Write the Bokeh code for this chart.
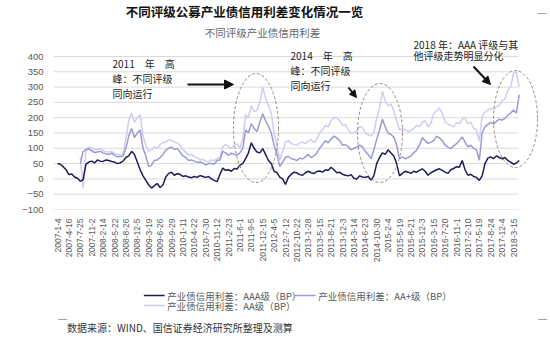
import math
from bokeh.plotting import figure
from bokeh.layouts import column
from bokeh.models import Range1d, FixedTicker, Label, Arrow, NormalHead
from bokeh.embed import file_html
from bokeh.resources import INLINE

nan = float("nan")

tick_labels = ["2007-1-4", "2007-4-16", "2007-7-25", "2007-11-2", "2008-2-14", "2008-5-22",
               "2008-8-26", "2008-12-5", "2009-3-19", "2009-6-26", "2009-9-29", "2010-1-11",
               "2010-4-22", "2010-7-30", "2010-11-12", "2011-2-23", "2011-6-1", "2011-9-5",
               "2011-12-15", "2012-4-5", "2012-7-12", "2012-10-22", "2013-1-28", "2013-5-15",
               "2013-8-21", "2013-12-3", "2014-3-14", "2014-6-23", "2014-10-30", "2015-2-4",
               "2015-5-19", "2015-8-21", "2015-12-3", "2016-3-15", "2016-7-20", "2016-11-1",
               "2017-2-10", "2017-5-19", "2017-8-24", "2017-12-4", "2018-3-15"]

y_ticks = [-100, -50, 0, 50, 100, 150, 200, 250, 300, 350, 400]

# sample positions, in units of the tick-label spacing (four samples per label step)
x_pos = [k * 0.25 for k in range(163)]

aaa = [50, 48, 40, 30, 14, 16, 6, 2, -8, -2, 48, 55, 58, 52, 62, 58, 57, 62, 60, 57,
       55, 50, 52, 58, 70, 75, 90, 80, 55, 30, 10, -5, -20, -30, -22, -15, -28, -20, 6, 18,
       22, 12, 17, 15, 8, 10, 6, 4, 8, 5, 11, 8, 5, 8, 0, -5, -9, 15, 35, 28,
       30, 25, 34, 32, 45, 50, 66, 85, 118, 100, 88, 85, 99, 80, 60, 50, 25, 20, 6, 0,
       -18, 5, 15, 22, 20, 14, 12, 20, 25, 20, 18, 24, 26, 22, 30, 28, 38, 30, 20, 22,
       15, 12, 10, 14, 2, 0, 10, 6, 5, 8, -4, 10, 50, 70, 85, 80, 95, 85, 75, 50,
       10, 18, 25, 22, 18, 25, 22, 28, 33, 25, 12, 20, 25, 30, 33, 28, 22, 18, 30, 34,
       40, 38, 60, 30, 12, 15, 8, 5, -5, 10, 50, 68, 72, 66, 75, 70, 66, 70, 60, 55,
       48, 52, 60]

aa_plus = [nan, nan, nan, nan, nan, nan, nan, nan, 50, 90, 95, 98, 92, 86, 88, 90, 85, 82, 80, 84,
           77, 72, 72, 75, 100, 140, 165, 135, 150, 160, 100, 75, 40, 45, 60, 62, 70, 80, 94, 100,
           104, 96, 99, 88, 75, 70, 60, 62, 58, 54, 55, 52, 45, 50, 50, 48, 60, 62, 90, 85,
           77, 84, 80, 78, 85, 100, 160, 150, 180, 165, 155, 185, 213, 190, 172, 150, 110, 80, 40, 55,
           70, 74, 66, 64, 60, 68, 65, 72, 80, 70, 75, 85, 100, 112, 125, 118, 130, 140, 134, 125,
           110, 112, 105, 95, 100, 104, 110, 105, 90, 80, 66, 95, 130, 160, 195, 170, 150, 145, 137, 110,
           66, 72, 66, 70, 75, 85, 94, 110, 134, 125, 116, 120, 125, 140, 134, 125, 110, 104, 99, 108,
           115, 125, 137, 120, 105, 110, 100, 95, 61, 150, 170, 178, 185, 180, 188, 195, 192, 198, 208, 215,
           225, 215, 275]

aa = [nan, nan, nan, nan, nan, nan, nan, nan, 70, -30, 98, 104, 100, 96, 95, 98, 92, 90, 88, 90,
      83, 80, 78, 82, 130, 190, 215, 185, 200, 210, 140, 110, 90, 95, 105, 100, 112, 118, 120, 128,
      126, 120, 118, 110, 95, 88, 78, 80, 72, 70, 62, 64, 58, 56, 62, 60, 66, 70, 105, 112,
      105, 100, 110, 115, 100, 130, 210, 200, 240, 220, 225, 250, 300, 265, 240, 215, 150, 110, 62, 90,
      120, 125, 116, 112, 110, 118, 120, 115, 125, 128, 118, 130, 150, 160, 175, 170, 190, 200, 200, 190,
      175, 178, 160, 150, 151, 155, 172, 168, 150, 145, 140, 150, 200, 230, 287, 255, 239, 245, 223, 190,
      160, 165, 160, 155, 158, 165, 175, 170, 185, 190, 170, 180, 215, 222, 232, 215, 185, 180, 174, 170,
      185, 180, 196, 200, 180, 185, 165, 160, 124, 205, 218, 225, 230, 228, 235, 240, 255, 262, 289, 300,
      345, 350, 300]

series_names = ["产业债信用利差：AAA级（BP）", "产业债信用利差：AA+级（BP）", "产业债信用利差：AA级（BP）"]
colors = ["#1c1c58", "#9a9ad8", "#cdcdf0"]

CJK = "Noto Sans CJK SC"
LAT = "Liberation Sans"

TOP_H = 265

# pixel -> data helpers for annotation placement (frame: x 53..550, y 0..209)
def X(px):
    return (px - 57) / 11.4

def Y(py):
    return 400 - (py - 56) * 500 / 153

p = figure(width=550, height=TOP_H, output_backend="svg", toolbar_location=None,
           x_range=Range1d(X(53), X(550)), y_range=Range1d(-100, Y(0)),
           min_border_left=53, min_border_right=0, min_border_top=0,
           min_border_bottom=TOP_H - 209)
p.outline_line_color = None
p.background_fill_color = "white"
p.border_fill_color = "white"
p.grid.visible = False

# horizontal gridlines, limited to the chart's own width
p.segment(x0=[X(53)] * len(y_ticks), x1=[X(518)] * len(y_ticks), y0=y_ticks, y1=y_ticks,
          line_color="#d9d9d9", line_width=1)

p.line(x_pos, aa, line_color=colors[2], line_width=1.5)
p.line(x_pos, aa_plus, line_color=colors[1], line_width=1.5)
p.line(x_pos, aaa, line_color=colors[0], line_width=1.5)

# y axis
p.yaxis.ticker = FixedTicker(ticks=y_ticks)
p.yaxis.axis_line_color = None
p.yaxis.major_tick_line_color = None
p.yaxis.minor_tick_line_color = None
p.yaxis.major_label_text_font = LAT
p.yaxis.major_label_text_font_size = "9.5px"
p.yaxis.major_label_text_color = "#595959"
p.yaxis.major_label_standoff = 4

# x axis
p.xaxis.ticker = FixedTicker(ticks=list(range(len(tick_labels))))
p.xaxis.major_label_overrides = {i: t for i, t in enumerate(tick_labels)}
p.xaxis.major_label_orientation = math.pi / 2
p.xaxis.axis_line_color = None
p.xaxis.major_tick_line_color = None
p.xaxis.minor_tick_line_color = None
p.xaxis.major_label_text_font = LAT
p.xaxis.major_label_text_font_size = "8.5px"
p.xaxis.major_label_text_color = "#595959"
p.xaxis.major_label_standoff = 3

# dashed ellipses
ell_color = "#a08878"
p.ellipse(x=[X(255.5)], y=[Y(127.5)], width=[45 / 11.4], height=[109 * 500 / 153],
          fill_color=None, line_color=ell_color, line_dash="3 2", line_width=1)
p.ellipse(x=[X(379.5)], y=[Y(132.5)], width=[45 / 11.4], height=[99 * 500 / 153],
          fill_color=None, line_color=ell_color, line_dash="3 2", line_width=1)
p.ellipse(x=[X(515)], y=[Y(118.5)], width=[44 / 11.4], height=[97 * 500 / 153],
          fill_color=None, line_color=ell_color, line_dash="3 2", line_width=1)

def add_label(fig, x, y, text, size="10px", color="#222222", font=CJK, align="left", style="normal"):
    fig.add_layout(Label(x=x, y=y, text=text, text_font=font, text_font_size=size,
                         text_color=color, text_align=align, text_baseline="middle",
                         text_font_style=style))

# titles
add_label(p, X(244), Y(11), "不同评级公募产业债信用利差变化情况一览", size="12.5px", color="#111111",
          align="center", style="bold")
add_label(p, X(262), Y(32), "不同评级产业债信用利差", size="10.5px", color="#666666", align="center")

# annotations
add_label(p, X(112), Y(63), "2011\u3000年\u3000高")
add_label(p, X(112), Y(78), "峰：不同评级")
add_label(p, X(112), Y(93), "同向运行")
add_label(p, X(290), Y(55), "2014\u3000年\u3000高")
add_label(p, X(290), Y(70), "峰：不同评级")
add_label(p, X(290), Y(85), "同向运行")
add_label(p, X(413), Y(44), "2018 年：AAA 评级与其")
add_label(p, X(413), Y(55), "他评级走势明显分化")
add_label(p, X(546), Y(12), "—", size="9px", color="#555555", font=LAT, align="right")

for (x0, y0, x1, y1, sz) in [(187, 84, 233, 84, 9), (348, 87, 356, 97, 7), (473, 66, 490, 84, 8)]:
    p.add_layout(Arrow(x_start=X(x0), y_start=Y(y0), x_end=X(x1), y_end=Y(y1),
                       line_color="#111111", line_width=2,
                       end=NormalHead(size=sz, fill_color="#111111", line_color="#111111")))

# ---- lower strip: legend and source (coordinates in page pixels, y growing downwards) ----
q = figure(width=550, height=344 - TOP_H, output_backend="svg", toolbar_location=None,
           x_range=Range1d(0, 550), y_range=Range1d(344, TOP_H),
           x_axis_type=None, y_axis_type=None,
           min_border_left=0, min_border_right=0, min_border_top=0, min_border_bottom=0)
q.outline_line_color = None
q.grid.visible = False
q.background_fill_color = "white"
q.border_fill_color = "white"

# legend: swatch lines and labels
leg_x = [100, 267, 100]
leg_y = [295, 295, 305]
q.segment(x0=leg_x, x1=[x + 23 for x in leg_x], y0=leg_y, y1=leg_y, line_color=colors, line_width=1.6)
for lx, ly, name in zip(leg_x, leg_y, series_names):
    add_label(q, lx + 26, ly, name, size="9.5px", color="#595959")

add_label(q, 15, 327, "数据来源：WIND、国信证券经济研究所整理及测算", size="10px", color="#333333")
add_label(q, 5, 318, "—", size="9px", color="#555555", font=LAT)
add_label(q, 546, 318, "—", size="9px", color="#555555", font=LAT, align="right")

open("out.html", "w").write(file_html(column(p, q), INLINE))
